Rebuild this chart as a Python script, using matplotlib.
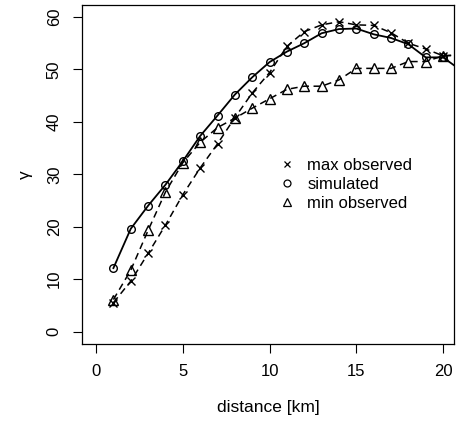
import numpy as np
import matplotlib
import matplotlib.pyplot as plt
from matplotlib.lines import Line2D
matplotlib.use('Agg')

plt.rcParams['font.family'] = ['Liberation Sans', 'DejaVu Sans']

distance = np.arange(1, 22)
max_obs = [5.5, 9.6, 14.9, 20.3, 26.1, 31.2, 35.8, 40.8, 45.5, 49.4, 54.4,
           57.2, 58.5, 59.1, 58.5, 58.4, 57.0, 55.0, 53.9, 52.6, 52.8]
simulated = [12.1, 19.6, 24.0, 28.0, 32.5, 37.3, 41.2, 45.2, 48.5, 51.4, 53.4,
             55.0, 56.9, 57.7, 57.8, 56.7, 56.0, 54.8, 52.3, 52.3, 49.9]
min_obs = [6.1, 11.7, 19.3, 26.6, 32.2, 36.1, 38.9, 40.7, 42.6, 44.4, 46.2,
           46.8, 46.8, 48.0, 50.2, 50.2, 50.2, 51.5, 51.5, 52.6, 52.7]

fig = plt.figure(figsize=(4.57, 4.21), dpi=100)
ax = fig.add_axes([82 / 457, 77 / 421, 372 / 457, 339 / 421])

ax.plot(distance, max_obs, color='black', linestyle=(0, (4.5, 3)), linewidth=1.1,
        marker='x', markersize=5.5, markeredgewidth=1.0)
ax.plot(distance, simulated, color='black', linestyle='-', linewidth=1.3,
        marker='o', markersize=5.5, markerfacecolor='none', markeredgewidth=1.0)
ax.plot(distance, min_obs, color='black', linestyle=(0, (4.5, 3)), linewidth=1.1,
        marker='^', markersize=6.5, markerfacecolor='none', markeredgewidth=1.0)

ax.set_xlim(-0.81, 20.63)
ax.set_ylim(-2.38, 62.29)
ax.set_xticks([0, 5, 10, 15, 20])
ax.set_yticks([0, 10, 20, 30, 40, 50, 60])
ax.tick_params(direction='out', length=6.5, width=0.8, labelsize=12, pad=8)
for lab in ax.get_yticklabels():
    lab.set_rotation(90)
    lab.set_va('center')

for sp in ax.spines.values():
    sp.set_linewidth(0.9)

ax.set_xlabel('distance [km]', fontsize=12.5, labelpad=15)
ax.set_ylabel('γ', fontsize=12.5, labelpad=10)

handles = [
    Line2D([], [], color='black', linestyle='none', marker='x', markersize=5, markeredgewidth=0.9),
    Line2D([], [], color='black', linestyle='none', marker='o', markersize=5,
           markerfacecolor='none', markeredgewidth=0.9),
    Line2D([], [], color='black', linestyle='none', marker='^', markersize=5.5,
           markerfacecolor='none', markeredgewidth=0.9),
]
ax.legend(handles, ['max observed', 'simulated', 'min observed'], frameon=False,
          loc='upper left', bbox_to_anchor=(197 / 372, (344 - 158) / 339),
          borderpad=0, borderaxespad=0, handlelength=1.0, handletextpad=0.7,
          labelspacing=0.25, fontsize=12)

fig.savefig('out.png', dpi=100)
